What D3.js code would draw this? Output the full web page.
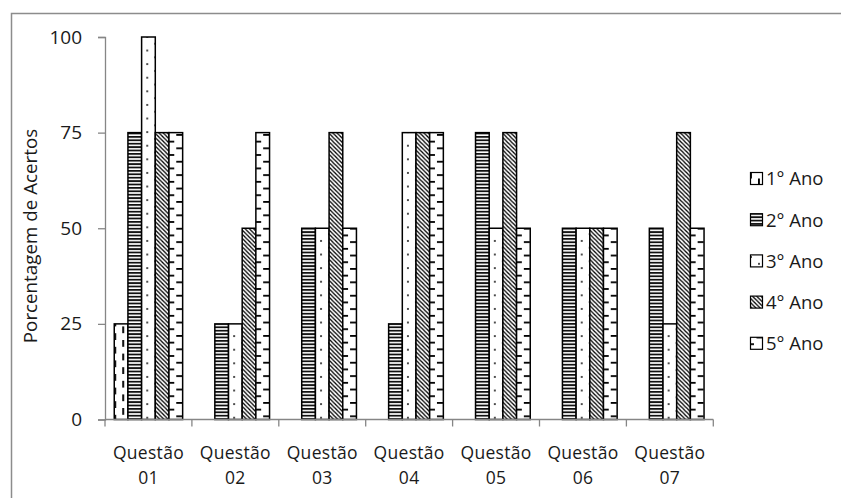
<!DOCTYPE html>
<html>
<head>
<meta charset="utf-8">
<script src="https://cdn.jsdelivr.net/npm/d3@7"></script>
<style>
  body { margin: 0; background: #fff; }
  svg { display: block; font-family: "Open Sans", sans-serif; }
</style>
</head>
<body>
<svg id="chart" width="841" height="498"></svg>
<script>
// Percentage of correct answers per question, by school year
const categories = ["Questão 01", "Questão 02", "Questão 03", "Questão 04", "Questão 05", "Questão 06", "Questão 07"];
const seriesNames = ["1° Ano", "2° Ano", "3° Ano", "4° Ano", "5° Ano"];
const ano1 = [25, 0, 0, 0, 0, 0, 0];
const ano2 = [75, 25, 50, 25, 75, 50, 50];
const ano3 = [100, 25, 50, 75, 50, 50, 25];
const ano4 = [75, 50, 75, 75, 75, 50, 75];
const ano5 = [75, 75, 50, 75, 50, 50, 50];
const yTicks = [0, 25, 50, 75, 100];
const yTitle = "Porcentagem de Acertos";

const seriesValues = [ano1, ano2, ano3, ano4, ano5];

const svg = d3.select("#chart");
const defs = svg.append("defs");

// Fill patterns, one per series
function pattern(id, w, h, draw) {
  const p = defs.append("pattern")
    .attr("id", id).attr("patternUnits", "userSpaceOnUse")
    .attr("width", w).attr("height", h);
  p.append("rect").attr("width", w).attr("height", h).attr("fill", "#fff");
  draw(p);
}
// vertical dashes
pattern("pat0", 16, 13.6, p => {
  p.append("rect").attr("x", 8).attr("y", 0).attr("width", 1.9).attr("height", 6.8).attr("fill", "#000");
  p.append("rect").attr("x", 0).attr("y", 6.8).attr("width", 1.9).attr("height", 6.8).attr("fill", "#000");
});
// narrow horizontal stripes
pattern("pat1", 6, 3.4, p => {
  p.append("rect").attr("x", 0).attr("y", 0).attr("width", 6).attr("height", 1.8).attr("fill", "#111");
});
// sparse dots
pattern("pat2", 16, 13.6, p => {
  p.append("circle").attr("cx", 9).attr("cy", 3).attr("r", 0.95).attr("fill", "#000");
  p.append("circle").attr("cx", 1).attr("cy", 9.8).attr("r", 0.95).attr("fill", "#000");
});
// downward diagonal hatching
pattern("pat3", 4.2, 4.2, p => {
  p.append("path")
    .attr("d", "M-1,-1 L5.2,5.2 M-1,3.2 L1,5.2 M3.2,-1 L5.2,1")
    .attr("stroke", "#000").attr("stroke-width", 1.3).attr("fill", "none");
});
// staggered horizontal dashes
pattern("pat4", 16, 13.4, p => {
  p.append("rect").attr("x", 0).attr("y", 0).attr("width", 4).attr("height", 1.8).attr("fill", "#000");
  p.append("rect").attr("x", 14).attr("y", 0).attr("width", 2).attr("height", 1.8).attr("fill", "#000");
  p.append("rect").attr("x", 6.5).attr("y", 6.7).attr("width", 5.5).attr("height", 1.8).attr("fill", "#000");
});

// outer frame
svg.append("path")
  .attr("d", "M11.5,498 L11.5,13.5 L841,13.5")
  .attr("fill", "none").attr("stroke", "#8c8c8c").attr("stroke-width", 1.5);

const x = d3.scaleBand().domain(categories).range([105, 713.3]).paddingInner(0.213).paddingOuter(0.1065);
const xs = d3.scaleBand().domain(seriesNames).range([0, x.bandwidth()]);
const y = d3.scaleLinear().domain([0, 100]).range([419.5, 37]);

// bars
const groups = svg.append("g").selectAll("g")
  .data(categories).join("g")
  .attr("transform", c => `translate(${x(c)},0)`);

groups.selectAll("rect")
  .data((c, ci) => seriesNames.map((s, si) => ({ s, si, v: seriesValues[si][ci] })).filter(d => d.v > 0))
  .join("rect")
  .attr("x", d => xs(d.s))
  .attr("y", d => y(d.v))
  .attr("width", xs.bandwidth())
  .attr("height", d => y(0) - y(d.v))
  .attr("fill", d => `url(#pat${d.si})`)
  .attr("stroke", "#000").attr("stroke-width", 1.5);

// y axis
const yAxis = svg.append("g").attr("transform", "translate(105,0)")
  .call(d3.axisLeft(y).tickValues(yTicks).tickSize(7).tickPadding(16).tickFormat(d3.format("d")));
yAxis.select(".domain").attr("stroke", "#868686").attr("stroke-width", 1.3);
yAxis.selectAll(".tick line").attr("stroke", "#868686").attr("stroke-width", 1.3);
yAxis.selectAll(".tick text").attr("font-size", 19).attr("fill", "#1a1a1a")
  .attr("font-family", "Open Sans, sans-serif");

// x axis with boundary ticks
const xAxisG = svg.append("g").attr("transform", `translate(0,${y(0)})`);
xAxisG.append("line").attr("x1", 105).attr("x2", 713.3).attr("y1", 0).attr("y2", 0)
  .attr("stroke", "#868686").attr("stroke-width", 1.3);
const bounds = categories.map(c => x(c) - x.step() * x.paddingInner() / 2).concat([713.3]);
xAxisG.selectAll("line.tk").data(bounds).join("line").attr("class", "tk")
  .attr("x1", d => d).attr("x2", d => d).attr("y1", 0).attr("y2", 7)
  .attr("stroke", "#868686").attr("stroke-width", 1.3);
const xl = xAxisG.selectAll("text").data(categories).join("text")
  .attr("x", c => x(c) + x.bandwidth() / 2)
  .attr("text-anchor", "middle").attr("font-size", 17.5).attr("fill", "#1a1a1a")
  .attr("letter-spacing", 0.3);
xl.append("tspan").attr("x", c => x(c) + x.bandwidth() / 2).attr("y", 39).text(c => c.split(" ")[0]);
xl.append("tspan").attr("x", c => x(c) + x.bandwidth() / 2).attr("y", 64).text(c => c.split(" ")[1]);

// y title
svg.append("text")
  .attr("transform", "translate(37,236) rotate(-90)")
  .attr("text-anchor", "middle").attr("font-size", 18.8).attr("fill", "#1a1a1a")
  .text(yTitle);

// legend
const legend = svg.append("g").selectAll("g")
  .data(seriesNames).join("g")
  .attr("transform", (d, i) => `translate(750,${178.5 + i * 41.2})`);
legend.append("rect")
  .attr("x", 0.5).attr("y", -6).attr("width", 12).attr("height", 12)
  .attr("fill", (d, i) => `url(#pat${i})`).attr("stroke", "#000").attr("stroke-width", 1.2);
legend.append("text")
  .attr("x", 16).attr("y", 6.8)
  .attr("font-size", 18.5).attr("fill", "#1a1a1a")
  .text(d => d);
</script>
</body>
</html>
